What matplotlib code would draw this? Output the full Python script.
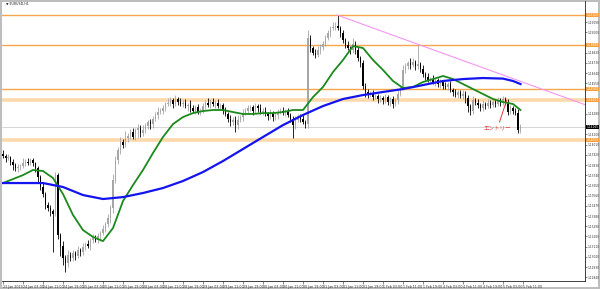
import matplotlib
matplotlib.use("Agg")
import matplotlib.pyplot as plt
import matplotlib.transforms as mtransforms
import numpy as np

# ----------------------------
# Data (EURUSD H1)
# ----------------------------
first_open = 1.1393

closes = [
    1.1391, 1.1389, 1.1390, 1.1386, 1.1383, 1.1380, 1.1381, 1.1382, 1.1385, 1.1386, 1.1385, 1.1387, 1.1385, 1.1380, 1.1372, 1.1364,
    1.1357, 1.1348, 1.1345, 1.1342, 1.1340, 1.1374, 1.1321, 1.1312, 1.1301, 1.1297, 1.1304, 1.1301, 1.1305, 1.1303, 1.1308, 1.1306,
    1.1311, 1.1313, 1.1312, 1.1317, 1.1319, 1.1317, 1.1320, 1.1323, 1.1327, 1.1331, 1.1336, 1.1345, 1.1370, 1.1387, 1.1396, 1.1403,
    1.1401, 1.1407, 1.1409, 1.1412, 1.1408, 1.1414, 1.1416, 1.1411, 1.1414, 1.1417, 1.1421, 1.1419, 1.1424, 1.1427, 1.1430, 1.1431,
    1.1433, 1.1437, 1.1438, 1.1440, 1.1437, 1.1441, 1.1439, 1.1437, 1.1438, 1.1435, 1.1436, 1.1433, 1.1431, 1.1434, 1.1430, 1.1431,
    1.1435, 1.1438, 1.1436, 1.1439, 1.1437, 1.1438, 1.1435, 1.1436, 1.1431, 1.1428, 1.1424, 1.1421, 1.1423, 1.1418, 1.1423, 1.1425,
    1.1429, 1.1431, 1.1433, 1.1434, 1.1431, 1.1435, 1.1433, 1.1430, 1.1431, 1.1428, 1.1426, 1.1429, 1.1425, 1.1427, 1.1430, 1.1431,
    1.1429, 1.1430, 1.1427, 1.1424, 1.1418, 1.1423, 1.1426, 1.1424, 1.1421, 1.1419, 1.1495, 1.1486, 1.1482, 1.1480, 1.1484, 1.1487,
    1.1490, 1.1495, 1.1499, 1.1504, 1.1505, 1.1506, 1.1504, 1.1499, 1.1493, 1.1489, 1.1486, 1.1484, 1.1490, 1.1484, 1.1477, 1.1473,
    1.1453, 1.1447, 1.1445, 1.1446, 1.1443, 1.1444, 1.1441, 1.1442, 1.1440, 1.1443, 1.1439, 1.1441, 1.1437, 1.1440, 1.1446, 1.1451,
    1.1467, 1.1470, 1.1473, 1.1471, 1.1474, 1.1470, 1.1472, 1.1468, 1.1463, 1.1461, 1.1458, 1.1459, 1.1456, 1.1458, 1.1454, 1.1456,
    1.1453, 1.1452, 1.1454, 1.1449, 1.1447, 1.1445, 1.1447, 1.1444, 1.1446, 1.1442, 1.1435, 1.1431, 1.1440, 1.1438, 1.1436, 1.1433,
    1.1437, 1.1435, 1.1438, 1.1436, 1.1439, 1.1437, 1.1440, 1.1438, 1.1441, 1.1439, 1.1430, 1.1433, 1.1431, 1.1429, 1.1414, 1.1417,
]

# wick lengths above / below the body, in pips
wick_up = [
    3, 2, 3, 1, 2, 2, 3, 2, 4, 2, 3, 2, 2, 1, 2, 2,
    3, 2, 2, 3, 2, 3, 2, 2, 4, 3, 4, 2, 3, 2, 4, 2,
    3, 2, 4, 2, 3, 2, 3, 2, 3, 2, 4, 3, 5, 4, 3, 5,
    3, 6, 2, 3, 4, 2, 3, 2, 4, 3, 2, 3, 2, 3, 4, 2,
    3, 2, 4, 3, 2, 4, 2, 3, 2, 3, 2, 4, 3, 2, 3, 2,
    3, 2, 4, 2, 3, 2, 3, 2, 2, 3, 2, 3, 2, 3, 4, 2,
    3, 2, 3, 2, 2, 3, 2, 4, 2, 3, 2, 3, 2, 3, 2, 2,
    3, 2, 3, 2, 2, 3, 2, 2, 3, 2, 7, 3, 2, 3, 4, 3,
    2, 3, 3, 2, 4, 3, 9, 2, 3, 2, 3, 2, 5, 2, 3, 2,
    3, 2, 3, 2, 3, 2, 2, 3, 2, 3, 2, 2, 3, 2, 3, 2,
    4, 3, 2, 4, 3, 2, 17, 2, 3, 2, 3, 2, 3, 2, 2, 3,
    2, 3, 2, 3, 2, 3, 2, 2, 3, 2, 3, 2, 4, 2, 3, 2,
    3, 2, 3, 2, 3, 2, 3, 2, 3, 2, 2, 3, 2, 2, 3, 2,
]
wick_dn = [
    2, 3, 2, 3, 4, 2, 3, 2, 2, 3, 2, 2, 3, 3, 4, 3,
    2, 4, 3, 4, 34, 2, 3, 9, 6, 8, 4, 3, 3, 4, 2, 3,
    2, 3, 2, 4, 3, 2, 3, 4, 2, 3, 3, 4, 4, 3, 3, 3,
    3, 2, 4, 3, 2, 3, 7, 3, 2, 3, 2, 4, 3, 2, 3, 2,
    3, 2, 2, 3, 4, 2, 3, 2, 3, 2, 4, 3, 2, 3, 2, 3,
    2, 3, 2, 3, 2, 4, 2, 3, 3, 2, 3, 4, 3, 6, 3, 2,
    3, 2, 3, 2, 4, 2, 3, 2, 3, 2, 3, 2, 3, 2, 3, 2,
    2, 3, 2, 3, 11, 3, 2, 3, 2, 3, 3, 3, 2, 3, 2, 3,
    3, 2, 2, 3, 2, 3, 2, 3, 2, 3, 2, 3, 2, 3, 2, 4,
    3, 4, 3, 2, 3, 2, 3, 2, 3, 2, 3, 4, 4, 2, 3, 2,
    2, 3, 2, 3, 2, 3, 2, 3, 2, 3, 2, 3, 2, 3, 2, 3,
    3, 2, 3, 2, 3, 2, 3, 2, 3, 4, 5, 4, 3, 2, 3, 2,
    2, 3, 2, 3, 2, 3, 2, 3, 2, 3, 3, 2, 3, 2, 3, 3,
]

# moving averages, sampled every 4 bars (green) / 8 bars (blue)
green_ma = [
    1.13671, 1.13706, 1.13741, 1.13786, 1.13777, 1.13715, 1.13574, 1.13389, 1.13256, 1.13195,
    1.13159, 1.13274, 1.13512, 1.13653, 1.13786, 1.13936, 1.14077, 1.14191, 1.14253, 1.14288,
    1.14306, 1.14315, 1.14315, 1.14297, 1.14280, 1.14280, 1.14288, 1.14288, 1.14297, 1.14315,
    1.14315, 1.14429, 1.14518, 1.14650, 1.14756, 1.14879, 1.14862, 1.14756, 1.14668, 1.14571,
    1.14509, 1.14518, 1.14562, 1.14588, 1.14615, 1.14588, 1.14544, 1.14500, 1.14456, 1.14412,
    1.14385, 1.14368, 1.14315,
]
green_bars = list(range(0, 205, 4)) + [207]

blue_ma = [
    1.13671, 1.13671, 1.13671, 1.13636, 1.13565, 1.13530, 1.13547, 1.13583, 1.13627, 1.13689,
    1.13768, 1.13865, 1.13971, 1.14077, 1.14182, 1.14271, 1.14350, 1.14412, 1.14447, 1.14474,
    1.14500, 1.14535, 1.14571, 1.14588, 1.14597, 1.14592, 1.14571, 1.14544,
]
blue_bars = list(range(0, 201, 8)) + [204, 207]

# horizontal levels
strong_levels = [1.15153, 1.14888, 1.14500]
zone_levels = [1.14403, 1.14050]
bid_price = 1.14165

# trend line anchors (bar, price)
trend_a = (133.6, 1.15153)
trend_b = (190.8, 1.14697)

time_labels = [
    "23 Jan 2019", "24 Jan 03:00", "24 Jan 11:00", "24 Jan 19:00", "25 Jan 03:00", "25 Jan 11:00",
    "25 Jan 19:00", "28 Jan 03:00", "28 Jan 11:00", "28 Jan 19:00", "29 Jan 03:00", "29 Jan 11:00",
    "29 Jan 19:00", "30 Jan 03:00", "30 Jan 11:00", "30 Jan 19:00", "31 Jan 03:00", "31 Jan 11:00",
    "31 Jan 19:00", "1 Feb 03:00", "1 Feb 11:00", "1 Feb 19:00", "4 Feb 03:00", "4 Feb 11:00",
    "4 Feb 19:00", "5 Feb 03:00", "5 Feb 11:00",
]
price_ticks = [round(1.12840 + 0.0009 * k, 5) for k in range(27)]

entry_text = "エントリー"
entry_point = (201.5, 1.14403)
entry_label = (197.8, 1.14156)

# ----------------------------
# Figure
# ----------------------------
plt.rcParams['font.family'] = ['Liberation Sans Narrow', 'DejaVu Sans', 'Noto Sans CJK JP']
small = 2.3
scale_size = 2.1

fig = plt.figure(figsize=(6, 2.89), dpi=100, facecolor='#bdbdbd')
# white chart window behind everything
bg = fig.add_axes([2 / 600, 2 / 289, 596 / 600, 285.5 / 289], zorder=-5)
bg.set_facecolor('white')
bg.set_xticks([])
bg.set_yticks([])
for s in bg.spines.values():
    s.set_visible(False)

ax = fig.add_axes([2 / 600, 8 / 289, 583 / 600, 279.5 / 289], zorder=1)
ax.set_facecolor('none')

n = len(closes)
idx = np.arange(n)
closes_a = np.array(closes)
opens_a = np.array([first_open] + closes[:-1])
pip = 0.0001
highs = np.maximum(opens_a, closes_a) + np.array(wick_up) * pip
lows = np.minimum(opens_a, closes_a) - np.array(wick_dn) * pip
bull = closes_a >= opens_a
colors = np.where(bull, '#a6a6a6', '#000000')

# levels
for lvl in strong_levels:
    ax.axhline(lvl, color='#f6a54c', lw=1.0, zorder=1)
for lvl in zone_levels:
    ax.axhline(lvl, color='#fcd8ab', lw=2.6, zorder=1)
ax.axhline(bid_price, color='#cfcfcf', lw=0.6, zorder=1)

# candles
ax.vlines(idx, lows, highs, colors=colors, lw=0.6, zorder=2)
body_h = np.maximum(np.abs(closes_a - opens_a), 0.00003)
ax.bar(idx, body_h, bottom=np.minimum(opens_a, closes_a), width=0.7,
       color=colors, linewidth=0, zorder=2)

# moving averages
ax.plot(green_bars, green_ma, color='#1b8a1b', lw=1.3, zorder=3)
ax.plot(blue_bars, blue_ma, color='#1414ee', lw=1.6, zorder=3)

# trend line (ray to the right)
xmin, xmax = -0.4, 232.8
slope = (trend_b[1] - trend_a[1]) / (trend_b[0] - trend_a[0])
ax.plot([trend_a[0], xmax], [trend_a[1], trend_a[1] + slope * (xmax - trend_a[0])],
        color='#f595f0', lw=0.8, zorder=3)

ax.annotate(entry_text, xy=entry_point, xytext=entry_label, fontsize=4,
            color='#e23a3a', family=['Noto Sans CJK JP', 'DejaVu Sans'],
            ha='center', va='center', zorder=4,
            arrowprops=dict(arrowstyle='-', color='#e23a3a', lw=0.7,
                            shrinkA=0.5, shrinkB=0))

ax.set_xlim(xmin, xmax)
ax.set_ylim(1.12807, 1.15272)

# axes styling
for s in ['top', 'left']:
    ax.spines[s].set_visible(False)
for s in ['right', 'bottom']:
    ax.spines[s].set_linewidth(0.6)
    ax.spines[s].set_color('#202020')

# price scale: hide the plain labels that sit under a price tag
tags = strong_levels + zone_levels + [bid_price]
shown_ticks = [p for p in price_ticks if min(abs(p - t) for t in tags) > 0.0004]
ax.yaxis.tick_right()
ax.set_yticks(shown_ticks)
ax.set_yticklabels([f"{p:.5f}" for p in shown_ticks])
ax.tick_params(axis='y', length=1.5, width=0.4, labelsize=scale_size, pad=0.6,
               colors='#303030')

ax.set_xticks(range(0, 8 * len(time_labels), 8))
ax.set_xticklabels(time_labels)
ax.tick_params(axis='x', length=2, width=0.4, labelsize=small, pad=0.6,
               colors='#303030')
for lab in ax.get_xticklabels():
    lab.set_ha('left')

# price tags on the right scale
trans = mtransforms.blended_transform_factory(ax.transAxes, ax.transData)
for lvl in strong_levels + zone_levels:
    ax.text(1.003, lvl, f"{lvl:.5f}", transform=trans, fontsize=scale_size,
            color='white', va='center', ha='left', clip_on=False, zorder=5,
            bbox=dict(boxstyle='square,pad=0.12', fc='#f5a040', ec='none'))
ax.text(1.003, bid_price, f"{bid_price:.5f}", transform=trans, fontsize=scale_size,
        color='white', va='center', ha='left', clip_on=False, zorder=5,
        bbox=dict(boxstyle='square,pad=0.12', fc='#000000', ec='none'))

fig.text(6 / 600, 1 - 4 / 289, "\u25bc EURUSD,H1", fontsize=small,
         family=['DejaVu Sans'], color='#202020', va='center', ha='left')

fig.savefig('out.png', dpi=100, facecolor=fig.get_facecolor())
